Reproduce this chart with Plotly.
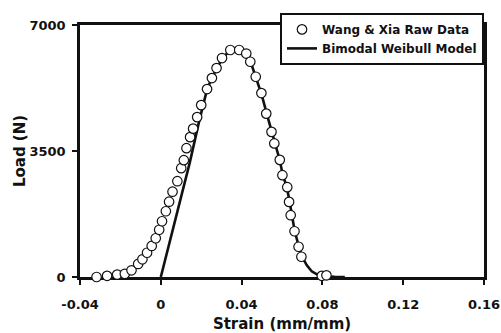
import plotly.graph_objects as go

# Wang & Xia raw data (strain mm/mm, load N)
raw_strain = [-0.0318, -0.0266, -0.0216, -0.0178, -0.0145, -0.0112, -0.0091, -0.0068,
              -0.0045, -0.0025, -0.0008, 0.0006, 0.0025, 0.0041, 0.0058, 0.0082,
              0.0101, 0.0114, 0.0127, 0.0145, 0.0160, 0.0180, 0.0200, 0.0229,
              0.0253, 0.0276, 0.0303, 0.0344, 0.0388, 0.0423, 0.0443, 0.0470,
              0.0498, 0.0522, 0.0548, 0.0562, 0.0589, 0.0602, 0.0626, 0.0635,
              0.0643, 0.0662, 0.0682, 0.0696, 0.0797, 0.0820]
raw_load = [0, 33, 67, 89, 186, 362, 492, 673,
            862, 1076, 1313, 1549, 1827, 2091, 2369, 2661,
            3023, 3245, 3579, 3885, 4121, 4441, 4775, 5220,
            5526, 5804, 6082, 6305, 6305, 6207, 5979, 5562,
            5109, 4539, 4032, 3710, 3254, 2828, 2495, 2086,
            1716, 1271, 840, 562, 33, 47]

# Bimodal Weibull model curve
model_strain = [0.0, 0.00445, 0.0094, 0.0144, 0.0190, 0.0208, 0.0228, 0.0252,
                0.0277, 0.0302, 0.0332, 0.0366, 0.0391, 0.0426, 0.0445, 0.0470,
                0.0500, 0.0525, 0.0550, 0.0564, 0.0589, 0.0604, 0.0624, 0.0638,
                0.0648, 0.0663, 0.0683, 0.0698, 0.0723, 0.0747, 0.0777, 0.0812,
                0.0861, 0.0911]
model_load = [0, 1007, 2119, 3190, 4330, 4775, 5192, 5526,
              5804, 6054, 6235, 6318, 6305, 6165, 5971, 5554,
              5053, 4525, 4024, 3690, 3245, 2828, 2495, 2077,
              1716, 1271, 854, 576, 325, 158, 61, 19,
              6, 0]

x_tick_vals = [-0.04, 0, 0.04, 0.08, 0.12, 0.16]
x_tick_text = ["-0.04", "0", "0.04", "0.08", "0.12", "0.16"]
y_tick_vals = [0, 3500, 7000]
y_tick_text = ["0", "3500", "7000"]

FONT = "DejaVu Sans"
INK = "#111111"

fig = go.Figure()
fig.add_trace(go.Scatter(
    x=model_strain, y=model_load, mode="lines",
    name="Bimodal Weibull Model",
    line=dict(color=INK, width=2.6),
    legendrank=2, cliponaxis=False,
))
fig.add_trace(go.Scatter(
    x=raw_strain, y=raw_load, mode="markers",
    name="Wang & Xia Raw Data",
    marker=dict(symbol="circle", size=9.5, color="white",
                line=dict(color=INK, width=1.2)),
    legendrank=1, cliponaxis=False,
))

axis_common = dict(
    showgrid=False, zeroline=False, showline=True, linecolor=INK, linewidth=2.6,
    mirror=True, ticks="outside", ticklen=5, tickwidth=2, tickcolor=INK,
    tickfont=dict(family=FONT, size=13, color=INK, weight="bold"),
    layer="below traces", automargin=False,
)

fig.update_xaxes(
    range=[-0.04, 0.16], tickmode="array", tickvals=x_tick_vals, ticktext=x_tick_text,
    title=dict(text="Strain (mm/mm)", font=dict(family=FONT, size=15, color=INK, weight="bold"),
               standoff=8),
    ticklabelstandoff=9,
    **axis_common,
)
fig.update_yaxes(
    range=[0, 7000], tickmode="array", tickvals=y_tick_vals, ticktext=y_tick_text,
    title=dict(text="Load (N)", font=dict(family=FONT, size=15, color=INK, weight="bold"),
               standoff=0),
    ticklabelstandoff=4,
    **axis_common,
)

fig.update_layout(
    width=501, height=333,
    margin=dict(l=80, r=17, t=25, b=56, autoexpand=False),
    paper_bgcolor="white", plot_bgcolor="white",
    font=dict(family=FONT, color=INK),
    showlegend=True,
    legend=dict(
        x=1.0, xanchor="right", y=1.048, yanchor="top",
        bgcolor="white", bordercolor=INK, borderwidth=2,
        font=dict(family=FONT, size=12, color=INK, weight="bold"),
        tracegroupgap=0, itemsizing="trace",
    ),
)

fig.write_html("out.html")
